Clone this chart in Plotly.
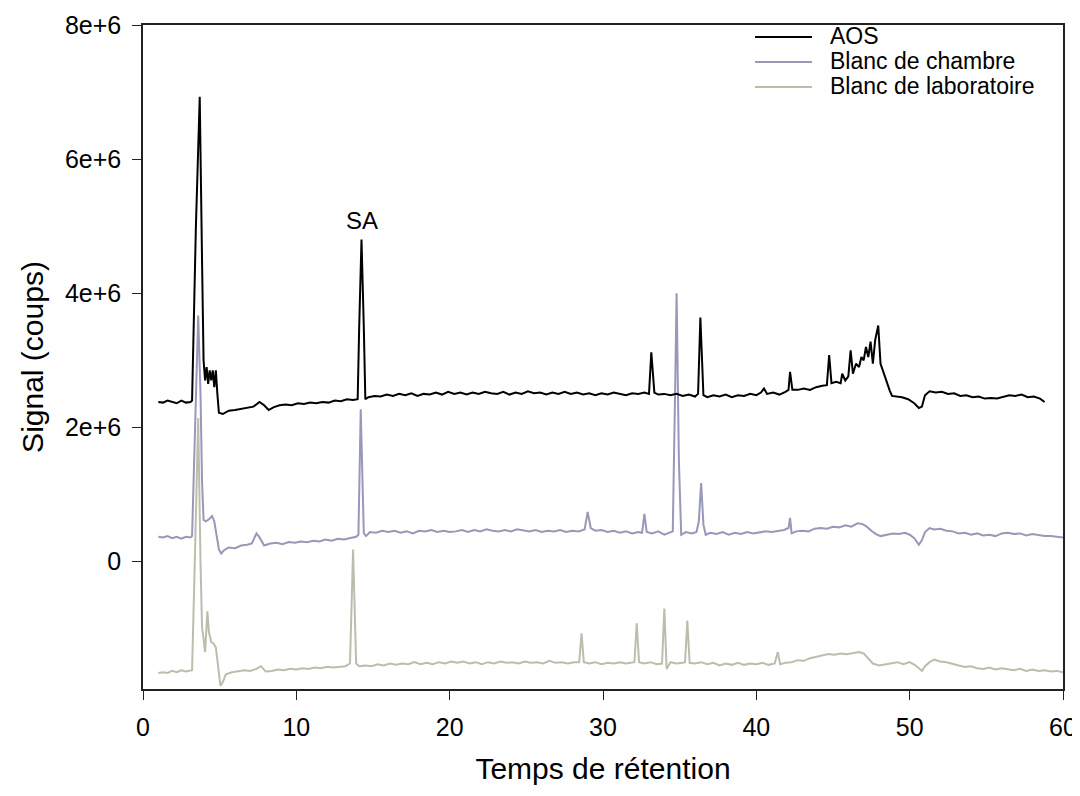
import plotly.graph_objects as go

# ---------------- data (signal in millions of counts) ----------------
aos_t = [1.0, 1.3, 1.6, 1.9, 2.2, 2.5, 2.8, 3.1, 3.2, 3.45, 3.7, 3.85, 3.95, 4.05, 4.15, 4.25, 4.35, 4.45, 4.55, 4.65,
         4.75, 4.85, 4.95, 5.2, 5.6, 6.0, 6.4, 6.8, 7.2, 7.6, 7.9, 8.2, 8.5, 8.9, 9.3, 9.7, 10.1, 10.5, 10.9, 11.3,
         11.7, 12.1, 12.5, 12.9, 13.3, 13.7, 14.0, 14.1, 14.25, 14.4, 14.5, 14.7, 15.1, 15.5, 15.9, 16.3, 16.7, 17.1,
         17.5, 17.9, 18.3, 18.7, 19.1, 19.5, 19.9, 20.3, 20.7, 21.1, 21.5, 21.9, 22.3, 22.7, 23.1, 23.5, 23.9, 24.3,
         24.7, 25.1, 25.5, 25.9, 26.3, 26.7, 27.1, 27.5, 27.9, 28.3, 28.7, 29.1, 29.5, 29.9, 30.3, 30.7, 31.1, 31.5,
         31.9, 32.3, 32.7, 33.0, 33.15, 33.35, 33.6, 34.0, 34.4, 34.8, 35.2, 35.6, 36.0, 36.2, 36.35, 36.55, 36.8,
         37.2, 37.6, 38.0, 38.4, 38.8, 39.2, 39.6, 40.0, 40.3, 40.5, 40.7, 41.1, 41.5, 41.9, 42.1, 42.2, 42.35, 42.7,
         43.1, 43.5, 43.9, 44.3, 44.6, 44.75, 44.9, 45.2, 45.5, 45.6, 45.8, 46.0, 46.15, 46.3, 46.5, 46.7, 46.85,
         47.0, 47.15, 47.3, 47.45, 47.6, 47.75, 47.95, 48.1, 48.25, 48.4, 48.55, 48.7, 48.85, 49.1, 49.5, 49.9,
         50.3, 50.6, 50.8, 51.0, 51.3, 51.7, 52.1, 52.5, 52.9, 53.3, 53.7, 54.1, 54.5, 54.9, 55.3, 55.7, 56.1,
         56.5, 56.9, 57.3, 57.7, 58.1, 58.5, 58.8]
aos_signal_m = [2.38, 2.37, 2.40, 2.38, 2.36, 2.40, 2.37, 2.38, 2.40, 5.0, 6.93, 4.5, 3.0, 2.7, 2.9, 2.65, 2.85, 2.7,
                2.85, 2.6, 2.85, 2.5, 2.22, 2.2, 2.25, 2.26, 2.28, 2.30, 2.31, 2.38, 2.33, 2.26, 2.30, 2.33, 2.34,
                2.33, 2.36, 2.35, 2.37, 2.36, 2.38, 2.37, 2.40, 2.39, 2.42, 2.41, 2.42, 3.5, 4.8, 3.5, 2.42, 2.45,
                2.47, 2.46, 2.49, 2.47, 2.50, 2.48, 2.51, 2.47, 2.50, 2.49, 2.52, 2.49, 2.53, 2.50, 2.52, 2.49, 2.52,
                2.50, 2.53, 2.51, 2.50, 2.53, 2.49, 2.52, 2.50, 2.54, 2.51, 2.52, 2.49, 2.52, 2.50, 2.53, 2.50, 2.52,
                2.49, 2.51, 2.48, 2.51, 2.49, 2.52, 2.50, 2.48, 2.51, 2.50, 2.52, 2.50, 3.12, 2.52, 2.49, 2.50, 2.48,
                2.50, 2.47, 2.49, 2.46, 2.50, 3.64, 2.48, 2.45, 2.48, 2.46, 2.49, 2.45, 2.48, 2.47, 2.50, 2.48, 2.52,
                2.58, 2.50, 2.52, 2.49, 2.53, 2.56, 2.83, 2.56, 2.56, 2.58, 2.56, 2.60, 2.62, 2.63, 3.08, 2.66, 2.68,
                2.66, 2.80, 2.70, 2.76, 3.15, 2.80, 2.95, 2.90, 3.05, 3.00, 3.20, 3.05, 3.28, 2.95, 3.30, 3.52, 2.95,
                2.85, 2.75, 2.62, 2.55, 2.47, 2.46, 2.45, 2.42, 2.36, 2.29, 2.31, 2.48, 2.54, 2.52, 2.53, 2.50, 2.51,
                2.47, 2.48, 2.45, 2.46, 2.43, 2.44, 2.43, 2.46, 2.48, 2.47, 2.49, 2.45, 2.46, 2.43, 2.38]

chambre_t = [1.0, 1.3, 1.6, 1.9, 2.2, 2.5, 2.8, 3.1, 3.2, 3.4, 3.6, 3.75, 3.85, 3.95, 4.1, 4.3, 4.5, 4.65, 4.8, 4.95,
             5.1, 5.3, 5.6, 6.0, 6.4, 6.8, 7.1, 7.4, 7.6, 7.9, 8.3, 8.7, 9.1, 9.5, 9.9, 10.3, 10.7, 11.1, 11.5, 11.9,
             12.3, 12.7, 13.1, 13.5, 13.9, 14.05, 14.2, 14.4, 14.55, 14.8, 15.2, 15.6, 16.0, 16.4, 16.8, 17.2, 17.6,
             18.0, 18.4, 18.8, 19.2, 19.6, 20.0, 20.4, 20.8, 21.2, 21.6, 22.0, 22.4, 22.8, 23.2, 23.6, 24.0, 24.4,
             24.8, 25.2, 25.6, 26.0, 26.4, 26.8, 27.2, 27.6, 28.0, 28.4, 28.8, 29.0, 29.2, 29.5, 29.9, 30.3, 30.7,
             31.1, 31.5, 31.9, 32.3, 32.55, 32.7, 32.85, 33.2, 33.6, 34.0, 34.3, 34.55, 34.7, 34.8, 34.95, 35.1,
             35.4, 35.8, 36.1, 36.25, 36.4, 36.55, 36.7, 37.0, 37.4, 37.8, 38.2, 38.6, 39.0, 39.4, 39.8, 40.2, 40.6,
             41.0, 41.4, 41.8, 42.1, 42.2, 42.3, 42.6, 43.0, 43.4, 43.8, 44.2, 44.6, 45.0, 45.4, 45.8, 46.2, 46.6,
             46.9, 47.2, 47.5, 47.8, 48.1, 48.5, 48.9, 49.3, 49.7, 50.0, 50.3, 50.6, 50.8, 51.0, 51.3, 51.6, 52.0,
             52.4, 52.8, 53.2, 53.6, 54.0, 54.4, 54.8, 55.2, 55.6, 56.0, 56.4, 56.8, 57.2, 57.6, 58.0, 58.4, 58.8,
             59.2, 59.6, 60.0]
chambre_signal_m = [0.37, 0.36, 0.38, 0.35, 0.37, 0.34, 0.37, 0.36, 0.38, 2.2, 3.67, 2.5, 1.2, 0.62, 0.60, 0.63,
                    0.68, 0.60, 0.40, 0.18, 0.12, 0.17, 0.21, 0.20, 0.24, 0.25, 0.27, 0.42, 0.36, 0.24, 0.27, 0.28,
                    0.26, 0.29, 0.28, 0.30, 0.29, 0.31, 0.30, 0.33, 0.31, 0.34, 0.33, 0.35, 0.37, 0.40, 2.27, 0.42,
                    0.38, 0.44, 0.43, 0.46, 0.44, 0.46, 0.43, 0.45, 0.42, 0.46, 0.45, 0.47, 0.44, 0.46, 0.44, 0.45,
                    0.47, 0.44, 0.47, 0.45, 0.48, 0.46, 0.45, 0.47, 0.45, 0.48, 0.46, 0.45, 0.47, 0.44, 0.46, 0.45,
                    0.47, 0.44, 0.46, 0.45, 0.48, 0.74, 0.50, 0.46, 0.47, 0.44, 0.46, 0.43, 0.45, 0.42, 0.44, 0.43,
                    0.71, 0.44, 0.42, 0.45, 0.40, 0.43, 0.45, 2.5, 4.0, 1.5, 0.40, 0.44, 0.42, 0.44, 0.60, 1.17, 0.55,
                    0.40, 0.43, 0.41, 0.44, 0.40, 0.43, 0.41, 0.44, 0.42, 0.43, 0.45, 0.44, 0.46, 0.47, 0.50, 0.65,
                    0.42, 0.45, 0.46, 0.45, 0.49, 0.50, 0.49, 0.52, 0.51, 0.54, 0.52, 0.57, 0.56, 0.52, 0.46, 0.41,
                    0.38, 0.40, 0.42, 0.41, 0.43, 0.40, 0.35, 0.25, 0.32, 0.44, 0.50, 0.48, 0.49, 0.46, 0.45, 0.42,
                    0.43, 0.40, 0.42, 0.39, 0.40, 0.38, 0.42, 0.43, 0.41, 0.42, 0.39, 0.41, 0.39, 0.38, 0.38, 0.37,
                    0.36]

labo_t = [1.0, 1.3, 1.6, 1.9, 2.2, 2.5, 2.8, 3.1, 3.2, 3.4, 3.6, 3.75, 3.85, 3.95, 4.05, 4.2, 4.3, 4.45, 4.6, 4.75,
          4.9, 5.05, 5.2, 5.4, 5.8, 6.2, 6.6, 7.0, 7.4, 7.7, 8.0, 8.4, 8.8, 9.2, 9.6, 10.0, 10.4, 10.8, 11.2, 11.6,
          12.0, 12.4, 12.8, 13.2, 13.5, 13.7, 13.9, 14.1, 14.5, 14.9, 15.3, 15.7, 16.1, 16.5, 16.9, 17.3, 17.7,
          18.1, 18.5, 18.9, 19.3, 19.7, 20.1, 20.5, 20.9, 21.3, 21.7, 22.1, 22.5, 22.9, 23.3, 23.7, 24.1, 24.5,
          24.9, 25.3, 25.7, 26.1, 26.5, 26.9, 27.3, 27.7, 28.1, 28.45, 28.6, 28.75, 29.1, 29.5, 29.9, 30.3, 30.7,
          31.1, 31.5, 31.9, 32.05, 32.2, 32.35, 32.7, 33.1, 33.5, 33.85, 34.0, 34.15, 34.4, 34.8, 35.2, 35.35,
          35.5, 35.65, 36.0, 36.4, 36.8, 37.2, 37.6, 38.0, 38.4, 38.8, 39.2, 39.6, 40.0, 40.4, 40.8, 41.2, 41.4,
          41.55, 41.9, 42.3, 42.7, 43.1, 43.5, 43.9, 44.3, 44.7, 45.1, 45.5, 45.9, 46.3, 46.7, 47.0, 47.3, 47.6,
          48.0, 48.4, 48.8, 49.2, 49.6, 50.0, 50.4, 50.8, 51.0, 51.3, 51.6, 52.0, 52.4, 52.8, 53.2, 53.6, 54.0,
          54.4, 54.8, 55.2, 55.6, 56.0, 56.4, 56.8, 57.2, 57.6, 58.0, 58.4, 58.8, 59.2, 59.6, 60.0]
labo_signal_m = [-1.66, -1.65, -1.66, -1.63, -1.65, -1.62, -1.64, -1.63, -1.62, 0.2, 2.14, 0.0, -0.98, -1.15,
                 -1.35, -0.74, -1.05, -1.2, -1.22, -1.28, -1.55, -1.85, -1.80, -1.68, -1.65, -1.64, -1.62, -1.63,
                 -1.60, -1.56, -1.64, -1.63, -1.61, -1.62, -1.60, -1.61, -1.59, -1.60, -1.58, -1.59, -1.57, -1.58,
                 -1.57, -1.56, -1.52, 0.18, -1.52, -1.56, -1.55, -1.56, -1.53, -1.55, -1.52, -1.54, -1.52, -1.53,
                 -1.50, -1.53, -1.51, -1.53, -1.50, -1.52, -1.49, -1.51, -1.49, -1.52, -1.50, -1.53, -1.50, -1.52,
                 -1.49, -1.51, -1.50, -1.52, -1.49, -1.51, -1.50, -1.52, -1.48, -1.51, -1.50, -1.52, -1.50, -1.50,
                 -1.07, -1.50, -1.52, -1.50, -1.53, -1.51, -1.52, -1.50, -1.52, -1.51, -1.50, -0.92, -1.50, -1.52,
                 -1.50, -1.53, -1.52, -0.70, -1.60, -1.50, -1.52, -1.51, -1.50, -0.88, -1.51, -1.52, -1.50, -1.53,
                 -1.51, -1.55, -1.52, -1.54, -1.51, -1.54, -1.52, -1.53, -1.51, -1.54, -1.52, -1.35, -1.53, -1.51,
                 -1.50, -1.47, -1.48, -1.44, -1.42, -1.40, -1.38, -1.39, -1.37, -1.38, -1.36, -1.35, -1.37, -1.45,
                 -1.52, -1.55, -1.53, -1.52, -1.50, -1.53, -1.50, -1.55, -1.63, -1.56, -1.50, -1.46, -1.49, -1.50,
                 -1.53, -1.55, -1.57, -1.56, -1.59, -1.60, -1.58, -1.61, -1.59, -1.60, -1.62, -1.60, -1.63, -1.61,
                 -1.63, -1.62, -1.64, -1.63, -1.65]

series_names = ["AOS", "Blanc de chambre", "Blanc de laboratoire"]
y_tick_values = [0, 2e6, 4e6, 6e6, 8e6]
y_tick_labels = ["0", "2e+6", "4e+6", "6e+6", "8e+6"]
x_tick_values = [0, 10, 20, 30, 40, 50, 60]

colors = {"AOS": "#000000", "Blanc de chambre": "#9898b8", "Blanc de laboratoire": "#bdbdae"}
FONT = "Liberation Sans, Arial, sans-serif"

# figure geometry (the page body adds an 8px offset)
W, H = 1072, 788
L, R, T, B = 135, 17, 17, 107
PW, PH = W - L - R, H - T - B


def px_to_paper(xp, yp):
    return (xp - L) / PW, 1 - (yp - T) / PH


fig = go.Figure()
for name, t, v in [(series_names[2], labo_t, labo_signal_m),
                   (series_names[1], chambre_t, chambre_signal_m),
                   (series_names[0], aos_t, aos_signal_m)]:
    fig.add_trace(go.Scatter(x=t, y=[s * 1e6 for s in v], mode="lines", name=name, showlegend=False,
                             line=dict(color=colors[name], width=2)))

# legend drawn by hand (long sample lines, tight rows)
legend_rows_px = [29, 54, 79]
for name, yp in zip(series_names, legend_rows_px):
    x0, y0 = px_to_paper(747, yp)
    x1, _ = px_to_paper(804, yp)
    fig.add_shape(type="line", xref="paper", yref="paper", x0=x0, x1=x1, y0=y0, y1=y0,
                  line=dict(color=colors[name], width=2))
    tx, ty = px_to_paper(820, yp - 1)
    fig.add_annotation(xref="paper", yref="paper", x=tx, y=ty, text=name, showarrow=False,
                       xanchor="left", yanchor="middle", font=dict(family=FONT, size=23, color="black"))

fig.add_annotation(x=14.25, y=4.85e6, text="SA", showarrow=False, yanchor="bottom",
                   font=dict(family=FONT, size=24, color="black"))

axis_common = dict(showline=True, linecolor="#222222", linewidth=1.5, mirror=True, ticks="outside",
                   ticklen=9, tickwidth=1.2, tickcolor="#222222", showgrid=False, zeroline=False,
                   automargin=False, tickfont=dict(family=FONT, size=25, color="black"))

fig.update_layout(
    width=W, height=H,
    margin=dict(l=L, r=R, t=T, b=B),
    plot_bgcolor="white", paper_bgcolor="white",
    font=dict(family=FONT, color="black"),
    showlegend=False,
    xaxis=dict(range=[0, 60], tickvals=x_tick_values, ticklabelstandoff=6,
               title=dict(text="Temps de rétention", font=dict(family=FONT, size=30), standoff=18),
               **axis_common),
    yaxis=dict(range=[-1.9e6, 8e6], tickvals=y_tick_values, ticktext=y_tick_labels, ticklabelstandoff=6,
               title=dict(text="Signal (coups)", font=dict(family=FONT, size=30), standoff=12),
               **axis_common),
)

fig.write_html("out.html")
